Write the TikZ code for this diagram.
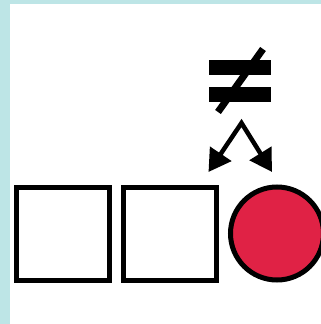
\documentclass[tikz,border=0pt]{standalone}
\usetikzlibrary{arrows.meta}
\definecolor{bgteal}{HTML}{BDE5E6}
\definecolor{dotred}{HTML}{E02245}
\tikzset{
  box/.style={draw=black, line width=5pt, fill=white, minimum size=93pt, inner sep=0pt, outer sep=0pt},
  dot/.style={draw=black, line width=5pt, fill=dotred, circle, minimum size=93pt, inner sep=0pt, outer sep=0pt},
  bar/.style={fill=black},
  link/.style={line width=4.5pt, miter limit=20, {Triangle[length=22pt,width=25pt]}-{Triangle[length=22pt,width=25pt]}}
}
\begin{document}
\begin{tikzpicture}[x=1pt,y=-1pt]
\useasboundingbox (0,0) rectangle (321,324);
\clip (0,0) rectangle (321,324);
\fill[bgteal] (0,0) rectangle (321,324);
\fill[white] (10,4) rectangle (321,324);
\node[box] (s1) at (63,233.5) {};
\node[box] (s2) at (170,233.5) {};
\node[dot] (c) at (277,233.5) {};
% not-equal sign
\fill[bar] (209,60) rectangle (271,75);
\fill[bar] (209,87) rectangle (271,102);
\coordinate (slashA) at (218,112);
\coordinate (slashB) at (263,49);
\draw[line width=7pt] (slashA) -- (slashB);
% arrows
\coordinate (apex) at (241.5,123);
\coordinate (tipL) at (208.5,172);
\coordinate (tipR) at (272,172);
\draw[link] (tipL) -- (apex) -- (tipR);
\end{tikzpicture}
\end{document}
